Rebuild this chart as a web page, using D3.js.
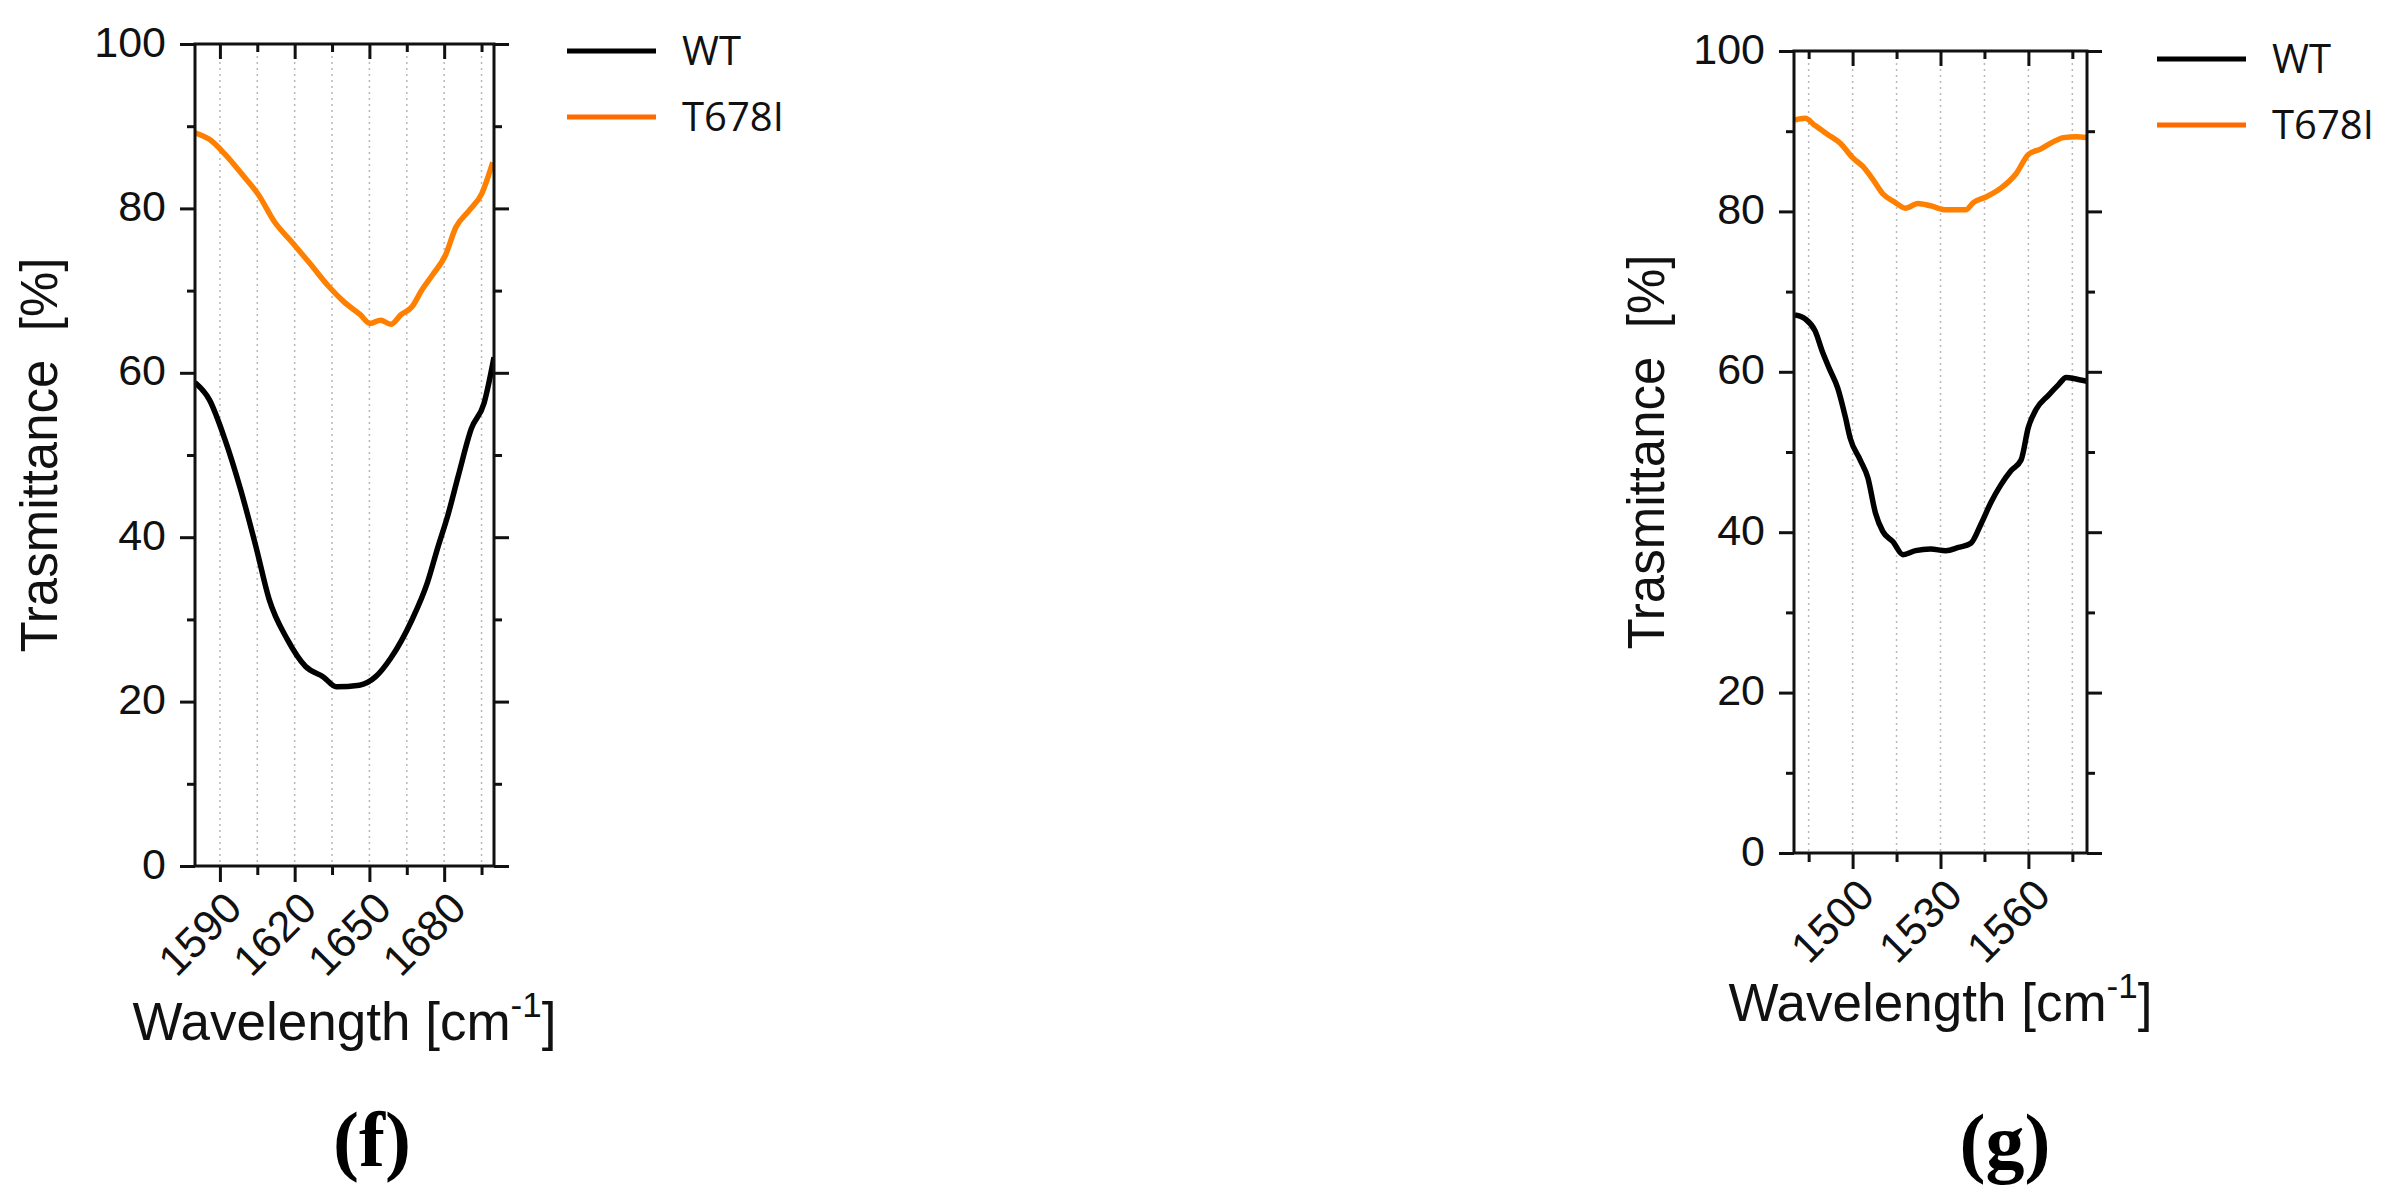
<!DOCTYPE html>
<html lang="en">
<head>
<meta charset="utf-8">
<title>Trasmittance spectra</title>
<script src="https://cdn.jsdelivr.net/npm/d3@7"></script>
<style>
  body { margin: 0; background: #fff; }
  svg { display: block; }
</style>
</head>
<body>
<script>
// ---- panel (f) values ----
var fWaveWT = [1580, 1585.8, 1592, 1598.3, 1604.5, 1609.7, 1617, 1624.3, 1631.5, 1636.7, 1646, 1652.4, 1658.6, 1667, 1673.3, 1677.4, 1681.6, 1685.7, 1690.9, 1696, 1700];
var fWT     = [58.8, 56.7, 51.9, 45.8, 38.8, 32.5, 27.6, 24.3, 23.0, 21.8, 22.0, 23.0, 25.3, 29.9, 34.5, 38.7, 42.8, 47.5, 53.2, 56.3, 61.9];
var fWaveMut = [1580, 1585.8, 1592, 1599.3, 1605.6, 1611.8, 1619.2, 1626.4, 1633.7, 1639.9, 1646.2, 1650.3, 1654.5, 1658.6, 1662.8, 1667, 1671.1, 1675.3, 1680.5, 1684.7, 1689.9, 1695.1, 1699.5];
var fMut     = [89.2, 88.4, 86.6, 84.0, 81.6, 78.4, 75.8, 73.2, 70.5, 68.6, 67.1, 66.0, 66.4, 65.9, 67.1, 68.0, 70.1, 71.9, 74.3, 77.7, 79.7, 81.8, 85.6];
var fMajor = [1590, 1620, 1650, 1680];
var fMinor = [1605, 1635, 1665, 1695];

// ---- panel (g) values ----
var gWaveWT = [1480.3, 1483.8, 1487.2, 1489.8, 1492.3, 1494.9, 1497.5, 1499.2, 1502.6, 1505.2, 1507.8, 1510.3, 1513.8, 1517.2, 1521.5, 1526.6, 1531.8, 1536.1, 1540.3, 1543.8, 1547.2, 1550.6, 1554.1, 1557.5, 1560, 1562.6, 1566.9, 1570.3, 1572.9, 1576.3, 1580];
var gWT     = [67.1, 66.6, 65.1, 62.4, 60.2, 58.0, 54.4, 51.7, 49.0, 46.8, 42.4, 40.1, 38.8, 37.2, 37.7, 37.9, 37.7, 38.1, 38.6, 41.0, 43.7, 45.9, 47.7, 49.0, 53.1, 55.3, 57.1, 58.4, 59.3, 59.1, 58.8];
var gWaveMut = [1480.3, 1483.8, 1487.2, 1491.5, 1495.8, 1500, 1503.5, 1506.9, 1510.3, 1514.6, 1518, 1522.3, 1526.6, 1531.8, 1538.6, 1541.2, 1545.5, 1550.6, 1555.8, 1560, 1564.3, 1568.6, 1572, 1576.3, 1580];
var gMut     = [91.4, 91.6, 90.7, 89.6, 88.5, 86.7, 85.6, 84.0, 82.2, 81.1, 80.4, 81.0, 80.7, 80.2, 80.2, 81.1, 81.8, 82.9, 84.7, 87.1, 87.8, 88.7, 89.2, 89.3, 89.2];
var gMajor = [1500, 1530, 1560];
var gMinor = [1485, 1515, 1545, 1575];

var yMajor = [0, 20, 40, 60, 80, 100];
var yMinor = [10, 30, 50, 70, 90];
var seriesNames = ["WT", "T678I"];
var lineColors = ["#000000", "#ff8000"];
var legendColors = ["#000000", "#ff6a00"];

var w = 2384, h = 1200;
var sansFont = "'Liberation Sans', Arial, sans-serif";

var svg = d3.select("body").append("svg")
  .attr("width", w)
  .attr("height", h);

var drawPanel = function(p) {
  var x = d3.scaleLinear().domain(p.xDomain).range([p.left, p.right]);
  var y = d3.scaleLinear().domain([0, 100]).range([p.bottom, p.top]);
  var g = svg.append("g");

  // dotted vertical grid at every x tick
  g.selectAll(".grid")
    .data(p.major.concat(p.minor))
    .enter().append("line")
    .attr("x1", function(d) { return x(d); })
    .attr("x2", function(d) { return x(d); })
    .attr("y1", p.top)
    .attr("y2", p.bottom)
    .attr("stroke", "#b8b8b8")
    .attr("stroke-width", 1.5)
    .attr("stroke-dasharray", "2,4");

  // curves
  var clipId = "clip-" + p.id;
  svg.append("clipPath").attr("id", clipId)
    .append("rect")
    .attr("x", p.left).attr("y", p.top)
    .attr("width", p.right - p.left).attr("height", p.bottom - p.top);

  var line = d3.line()
    .x(function(d) { return x(d[0]); })
    .y(function(d) { return y(d[1]); })
    .curve(d3.curveMonotoneX);

  [p.mut, p.wt].forEach(function(s, i) {
    var color = i === 0 ? lineColors[1] : lineColors[0];
    g.append("path")
      .datum(d3.zip(s[0], s[1]))
      .attr("clip-path", "url(#" + clipId + ")")
      .attr("fill", "none")
      .attr("stroke", color)
      .attr("stroke-width", 5.5)
      .attr("stroke-linejoin", "round")
      .attr("d", line);
  });

  // axes: major and minor ticks, outward on left/bottom, inward on top/right
  var styleAxis = function(sel) {
    sel.select(".domain").remove();
    sel.selectAll(".tick line").attr("stroke", "#111").attr("stroke-width", 3);
  };

  g.append("g").attr("transform", "translate(" + p.left + ",0)")
    .call(d3.axisLeft(y).tickValues(yMajor).tickSize(15).tickPadding(14).tickFormat(d3.format("d")))
    .call(styleAxis)
    .selectAll("text")
    .attr("font-family", sansFont).attr("font-size", 43).attr("fill", "#111")
    .attr("dy", "0.28em");
  g.append("g").attr("transform", "translate(" + p.left + ",0)")
    .call(d3.axisLeft(y).tickValues(yMinor).tickSize(8).tickFormat(""))
    .call(styleAxis);
  g.append("g").attr("transform", "translate(" + p.right + ",0)")
    .call(d3.axisLeft(y).tickValues(yMajor).tickSize(-15).tickFormat(""))
    .call(styleAxis);
  g.append("g").attr("transform", "translate(" + p.right + ",0)")
    .call(d3.axisLeft(y).tickValues(yMinor).tickSize(-8).tickFormat(""))
    .call(styleAxis);

  var xb = g.append("g").attr("transform", "translate(0," + p.bottom + ")")
    .call(d3.axisBottom(x).tickValues(p.major).tickSize(16).tickFormat(d3.format("d")))
    .call(styleAxis);
  xb.selectAll("text")
    .attr("font-family", sansFont).attr("font-size", 43).attr("fill", "#111")
    .attr("text-anchor", "end")
    .attr("x", 0).attr("y", 0).attr("dy", "0.35em")
    .attr("transform", "translate(13,34) rotate(-45)");
  g.append("g").attr("transform", "translate(0," + p.bottom + ")")
    .call(d3.axisBottom(x).tickValues(p.minor).tickSize(9).tickFormat(""))
    .call(styleAxis);
  g.append("g").attr("transform", "translate(0," + p.top + ")")
    .call(d3.axisBottom(x).tickValues(p.major).tickSize(15).tickFormat(""))
    .call(styleAxis);
  g.append("g").attr("transform", "translate(0," + p.top + ")")
    .call(d3.axisBottom(x).tickValues(p.minor).tickSize(8).tickFormat(""))
    .call(styleAxis);

  // frame
  g.append("rect")
    .attr("x", p.left).attr("y", p.top)
    .attr("width", p.right - p.left).attr("height", p.bottom - p.top)
    .attr("fill", "none")
    .attr("stroke", "#111")
    .attr("stroke-width", 3);

  // axis titles
  g.append("text")
    .attr("transform", "translate(" + p.yTitleX + "," + (p.top + p.bottom) / 2 + ") rotate(-90)")
    .attr("text-anchor", "middle")
    .attr("font-family", sansFont)
    .attr("font-size", 51)
    .attr("fill", "#111")
    .style("white-space", "pre")
    .text("Trasmittance  [%]");

  var xt = g.append("text")
    .attr("x", (p.left + p.right) / 2)
    .attr("y", p.xTitleY)
    .attr("text-anchor", "middle")
    .attr("font-family", sansFont)
    .attr("font-size", 53)
    .attr("fill", "#111");
  xt.append("tspan").text("Wavelength [cm");
  xt.append("tspan").attr("font-size", 35).attr("dy", -23).text("-1");
  xt.append("tspan").attr("dy", 23).text("]");

  // legend
  seriesNames.forEach(function(name, i) {
    var ly = p.legendY + i * 66;
    g.append("line")
      .attr("x1", p.legendX).attr("x2", p.legendX + 89)
      .attr("y1", ly).attr("y2", ly)
      .attr("stroke", legendColors[i])
      .attr("stroke-width", 5);
    g.append("text")
      .attr("x", p.legendX + 115)
      .attr("y", ly)
      .attr("dy", "0.35em")
      .attr("font-family", "'Open Sans', 'Noto Sans', sans-serif")
      .attr("font-size", 40)
      .attr("fill", "#111")
      .text(name);
  });

  // panel letter
  g.append("text")
    .attr("x", p.letterX)
    .attr("y", p.letterY)
    .attr("text-anchor", "middle")
    .attr("font-family", "'Liberation Serif', 'Times New Roman', serif")
    .attr("font-weight", "bold")
    .attr("font-size", 78)
    .attr("fill", "#000")
    .text(p.letter);
};

drawPanel({
  id: "f", letter: "(f)",
  xDomain: [1580, 1700], left: 195, right: 494, top: 44, bottom: 866,
  major: fMajor, minor: fMinor,
  wt: [fWaveWT, fWT], mut: [fWaveMut, fMut],
  yTitleX: 57, xTitleY: 1040,
  legendX: 567, legendY: 51,
  letterX: 372, letterY: 1166
});

drawPanel({
  id: "g", letter: "(g)",
  xDomain: [1480, 1580], left: 1794, right: 2087, top: 51, bottom: 853,
  major: gMajor, minor: gMinor,
  wt: [gWaveWT, gWT], mut: [gWaveMut, gMut],
  yTitleX: 1664, xTitleY: 1021,
  legendX: 2157, legendY: 59,
  letterX: 2005, letterY: 1168
});
</script>
</body>
</html>
